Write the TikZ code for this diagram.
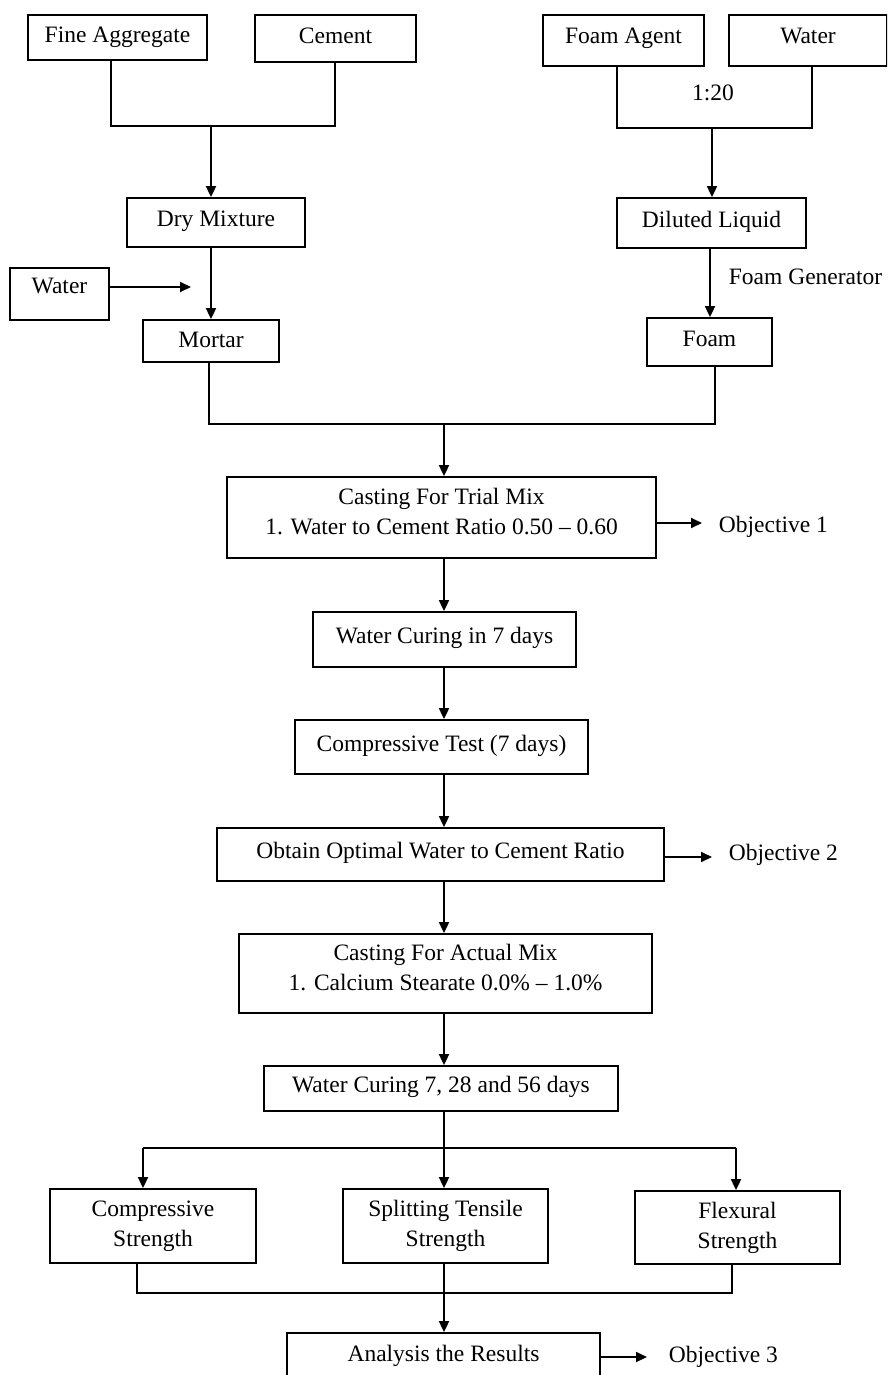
\documentclass[tikz,border=0pt]{standalone}
\usepackage{fontspec}
\setmainfont{Liberation Serif}
\usetikzlibrary{arrows.meta}
\newcommand\lowdepth{\rule[-13pt]{0pt}{13pt}}
\begin{document}
\begin{tikzpicture}[x=1pt,y=-1pt,
  line width=1.8pt,
  every node/.style={font=\fontsize{23.5}{30}\selectfont},
  box/.style={draw, line width=1.8pt, inner sep=0pt, align=center},
  one/.style={text height=16pt, text depth=8pt},
  arr/.style={-{Triangle[length=11pt,width=10pt]}},
  lbl/.style={inner sep=0pt, anchor=base west}]
\fill[white] (0,0) rectangle (887,1375);
\clip (0,0) rectangle (887,1375);
% top row
\node[box,one,text depth=5pt,minimum width=179pt,minimum height=45pt] (fa) at (117.5,37.5) {Fine Aggregate};
\node[box,one,text depth=5pt,minimum width=161pt,minimum height=47pt] (cem) at (335.5,38.5) {Cement};
\node[box,one,text depth=10pt,minimum width=161pt,minimum height=51pt] (fagent) at (623.5,40.5) {Foam Agent};
\node[box,one,text depth=10pt,minimum width=158pt,minimum height=51pt] (wtr) at (808,40.5) {Water};
% second row
\node[box,one,minimum width=178pt,minimum height=49pt] (dry) at (216,222.5) {Dry Mixture};
\node[box,one,minimum width=189pt,minimum height=50pt] (dil) at (711.5,223) {Diluted Liquid};
\node[box,one,text depth=18pt,minimum width=99pt,minimum height=52pt] (wl) at (59.5,294) {Water};
\node[box,one,text depth=4pt,minimum width=136pt,minimum height=42pt] (mortar) at (211,341) {Mortar};
\node[box,one,minimum width=125pt,minimum height=48pt] (foam) at (709.5,342) {Foam};
% labels
\node[inner sep=0pt,anchor=base] (r120) at (713,100.5) {1:20};
\node[lbl] (fgen) at (728,284) {Foam Generator};
% central column
\node[box,minimum width=429pt,minimum height=81pt] (cast1) at (441.5,517.5) {Casting For Trial Mix\\1. Water to Cement Ratio 0.50 – 0.60\lowdepth};
\node[box,one,minimum width=263pt,minimum height=55pt] (cure1) at (444.5,639.5) {Water Curing in 7 days};
\node[box,one,minimum width=293pt,minimum height=54pt] (ctest) at (441.5,747) {Compressive Test (7 days)};
\node[box,one,minimum width=447pt,minimum height=53pt] (opt) at (440.5,854.5) {Obtain Optimal Water to Cement Ratio};
\node[box,minimum width=413pt,minimum height=79pt] (cast2) at (445.5,973.5) {Casting For Actual Mix\\1. Calcium Stearate 0.0\% – 1.0\%\lowdepth};
\node[box,one,minimum width=354pt,minimum height=45pt] (cure2) at (441,1088.5) {Water Curing 7, 28 and 56 days};
\node[box,minimum width=206pt,minimum height=74pt] (cs) at (153,1226) {Compressive\\Strength};
\node[box,minimum width=205pt,minimum height=74pt] (st) at (445.5,1226) {Splitting Tensile\\Strength};
\node[box,minimum width=205pt,minimum height=73pt] (fs) at (737.5,1227.5) {Flexural\\Strength};
\node[box,one,minimum width=313pt,minimum height=49pt] (ana) at (443.5,1357.5) {Analysis the Results};
% objectives
\node[lbl] (obj1) at (718,532) {Objective 1};
\node[lbl] (obj2) at (728,860) {Objective 2};
\node[lbl] (obj3) at (668,1362) {Objective 3};
% connectors top-left
\coordinate (tl) at (111,126);
\coordinate (tlr) at (335,126);
\coordinate (tlm) at (211,126);
\draw (fa.south -| tl) -- (tl) -- (tlr) -- (cem.south -| tlr);
\draw[arr] (tlm) -- (tlm |- dry.north);
\draw[arr] (dry.south -| tlm) -- (mortar.north -| tlm);
\coordinate (wtip) at (191,287);
\draw[arr] (wl.east |- wtip) -- (wtip);
% connectors top-right
\coordinate (tr) at (617,128);
\coordinate (trr) at (812,128);
\coordinate (trm) at (712,128);
\draw (fagent.south -| tr) -- (tr) -- (trr) -- (wtr.south -| trr);
\draw[arr] (trm) -- (trm |- dil.north);
\coordinate (dfx) at (710,300);
\draw[arr] (dil.south -| dfx) -- (foam.north -| dfx);
% merge
\coordinate (ml) at (209,424);
\coordinate (mr) at (715,424);
\coordinate (sp) at (444,424);
\draw (mortar.south -| ml) -- (ml) -- (mr) -- (foam.south -| mr);
\draw[arr] (sp) -- (sp |- cast1.north);
\draw[arr] (cast1.south -| sp) -- (cure1.north -| sp);
\draw[arr] (cure1.south -| sp) -- (ctest.north -| sp);
\draw[arr] (ctest.south -| sp) -- (opt.north -| sp);
\draw[arr] (opt.south -| sp) -- (cast2.north -| sp);
\draw[arr] (cast2.south -| sp) -- (cure2.north -| sp);
% objective arrows
\coordinate (o1) at (702,523);
\draw[arr] (cast1.east |- o1) -- (o1);
\coordinate (o2) at (712,857);
\draw[arr] (opt.east |- o2) -- (o2);
% split
\coordinate (bl) at (143,1148);
\coordinate (br) at (736,1148);
\coordinate (bm) at (444,1148);
\draw (cure2.south -| sp) -- (bm);
\draw (bl) -- (br);
\draw[arr] (bm) -- (st.north -| sp);
\draw[arr] (bl) -- (bl |- cs.north);
\draw[arr] (br) -- (br |- fs.north);
% join
\coordinate (cl) at (137,1293);
\coordinate (cr) at (732,1293);
\draw (cs.south -| cl) -- (cl) -- (cr) -- (fs.south -| cr);
\draw[arr] (st.south -| sp) -- (ana.north -| sp);
\coordinate (o3) at (647,1357);
\draw[arr] (ana.east |- o3) -- (o3);
\end{tikzpicture}
\end{document}
